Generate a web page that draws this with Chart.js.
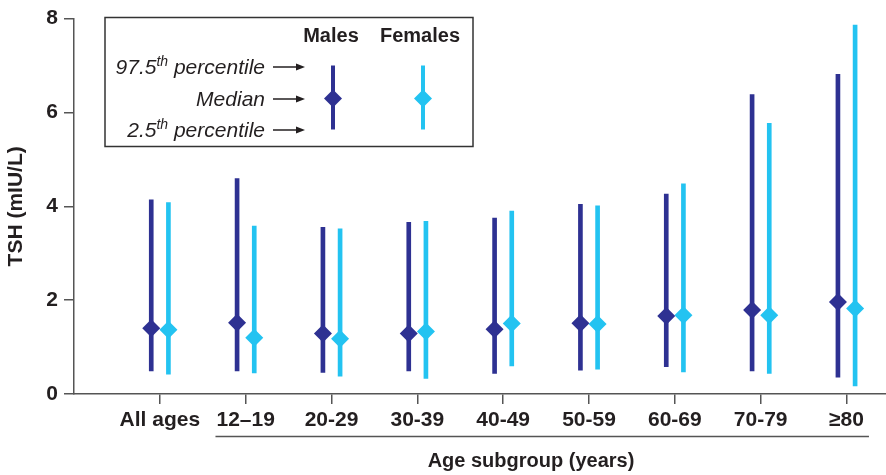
<!DOCTYPE html>
<html>
<head>
<meta charset="utf-8">
<script src="https://cdn.jsdelivr.net/npm/chart.js@4/dist/chart.umd.min.js"></script>
<style>
  html, body { margin: 0; padding: 0; background: #fff; }
  #wrap { width: 886px; height: 475px; position: relative; }
</style>
</head>
<body>
<div id="wrap"><canvas id="c" width="886" height="475"></canvas></div>
<script>
// ---- data ----
const categories = ['All ages', '12\u201319', '20-29', '30-39', '40-49', '50-59', '60-69', '70-79', '\u226580'];
const maleMedian   = [1.40, 1.52, 1.29, 1.29, 1.38, 1.51, 1.66, 1.79, 1.96];
const maleP975     = [4.14, 4.59, 3.55, 3.66, 3.75, 4.04, 4.26, 6.38, 6.81];
const maleP025     = [0.49, 0.49, 0.46, 0.49, 0.44, 0.51, 0.58, 0.49, 0.36];
const femaleMedian = [1.37, 1.20, 1.18, 1.33, 1.50, 1.49, 1.68, 1.68, 1.82];
const femaleP975   = [4.08, 3.58, 3.52, 3.68, 3.90, 4.01, 4.48, 5.77, 7.86];
const femaleP025   = [0.42, 0.45, 0.38, 0.33, 0.60, 0.53, 0.47, 0.44, 0.17];
const yTicks = [0, 2, 4, 6, 8];

// ---- style ----
const MALE = '#2E3192';
const FEMALE = '#23C3F1';
const TEXT = '#231F20';
const AXIS = '#555555';
const OFFSET = 0.1;
const FONT = '"Liberation Sans", Arial, Helvetica, sans-serif';

function bars(p025, p975, off) {
  return p025.map((lo, i) => ({ x: i + off, y: [lo, p975[i]] }));
}
function meds(m, off) {
  return m.map((v, i) => ({ x: i + off, y: v }));
}

const legendPlugin = {
  id: 'customDecor',
  afterDraw(chart) {
    const ctx = chart.ctx;
    const xs = chart.scales.x;
    ctx.save();
    // legend box
    ctx.strokeStyle = '#333';
    ctx.lineWidth = 1.5;
    ctx.strokeRect(105, 17.5, 368, 129);
    ctx.fillStyle = TEXT;
    ctx.textBaseline = 'alphabetic';
    ctx.textAlign = 'center';
    ctx.font = 'bold 20px ' + FONT;
    ctx.fillText('Males', 331, 42);
    ctx.fillText('Females', 420, 42);

    const rows = [
      { a: '97.5', sup: 'th', b: ' percentile', y: 67 },
      { a: 'Median', sup: '', b: '', y: 99 },
      { a: '2.5', sup: 'th', b: ' percentile', y: 130 }
    ];
    ctx.textAlign = 'left';
    rows.forEach(r => {
      const base = r.y + 7;
      ctx.font = 'italic 21px ' + FONT;
      const wa = ctx.measureText(r.a).width;
      const wb = ctx.measureText(r.b).width;
      ctx.font = 'italic 14px ' + FONT;
      const ws = r.sup ? ctx.measureText(r.sup).width : 0;
      const right = 265;
      let x = right - wa - ws - wb;
      ctx.font = 'italic 21px ' + FONT;
      ctx.fillText(r.a, x, base);
      x += wa;
      if (r.sup) {
        ctx.font = 'italic 14px ' + FONT;
        ctx.fillText(r.sup, x, base - 8);
        x += ws;
      }
      ctx.font = 'italic 21px ' + FONT;
      ctx.fillText(r.b, x, base);
      // arrow
      ctx.strokeStyle = TEXT;
      ctx.lineWidth = 1.5;
      ctx.beginPath();
      ctx.moveTo(273, r.y);
      ctx.lineTo(298, r.y);
      ctx.stroke();
      ctx.beginPath();
      ctx.moveTo(305, r.y);
      ctx.lineTo(296, r.y - 3.5);
      ctx.lineTo(296, r.y + 3.5);
      ctx.closePath();
      ctx.fill();
    });
    // legend sample keys
    [[333, MALE], [423, FEMALE]].forEach(([x, c]) => {
      ctx.strokeStyle = c;
      ctx.lineWidth = 4;
      ctx.beginPath();
      ctx.moveTo(x, 65.5);
      ctx.lineTo(x, 129.5);
      ctx.stroke();
      ctx.fillStyle = c;
      ctx.beginPath();
      const y = 98.5, r = 9;
      ctx.moveTo(x - r, y); ctx.lineTo(x, y - r); ctx.lineTo(x + r, y); ctx.lineTo(x, y + r);
      ctx.closePath();
      ctx.fill();
    });

    // bracket under subgroup labels + axis title
    ctx.font = 'bold 21px ' + FONT;
    const l = xs.getPixelForValue(1) - ctx.measureText(categories[1]).width / 2 - 1;
    const rr = xs.getPixelForValue(categories.length - 1) + ctx.measureText(categories[categories.length - 1]).width / 2 + 5;
    ctx.strokeStyle = AXIS;
    ctx.lineWidth = 1.5;
    ctx.beginPath();
    ctx.moveTo(l, 436.5);
    ctx.lineTo(rr, 436.5);
    ctx.stroke();
    ctx.fillStyle = TEXT;
    ctx.font = 'bold 20px ' + FONT;
    ctx.textAlign = 'center';
    ctx.textBaseline = 'middle';
    ctx.fillText('Age subgroup (years)', 531, 461);
    ctx.restore();
  }
};

const ctx = document.getElementById('c').getContext('2d');
new Chart(ctx, {
  data: {
    datasets: [
      { type: 'bar', label: 'Males range', data: bars(maleP025, maleP975, -OFFSET), backgroundColor: MALE, barThickness: 4, grouped: false, order: 3 },
      { type: 'bar', label: 'Females range', data: bars(femaleP025, femaleP975, OFFSET), backgroundColor: FEMALE, barThickness: 4, grouped: false, order: 3 },
      { type: 'scatter', label: 'Males', data: meds(maleMedian, -OFFSET), pointStyle: 'rectRot', pointRadius: 9, pointHoverRadius: 9, backgroundColor: MALE, borderWidth: 0, order: 1 },
      { type: 'scatter', label: 'Females', data: meds(femaleMedian, OFFSET), pointStyle: 'rectRot', pointRadius: 9, pointHoverRadius: 9, backgroundColor: FEMALE, borderWidth: 0, order: 1 }
    ]
  },
  options: {
    responsive: false,
    animation: false,
    events: [],
    layout: { autoPadding: false, padding: { top: 15, right: 0, left: 0, bottom: 0 } },
    plugins: { legend: { display: false }, tooltip: { enabled: false } },
    scales: {
      x: {
        type: 'linear',
        offset: false,
        min: -1,
        max: 8.46,
        afterBuildTicks(scale) { scale.ticks = categories.map((c, i) => ({ value: i })); },
        afterFit(scale) { scale.height = 81; scale.paddingLeft = 0; scale.paddingRight = 0; },
        ticks: {
          autoSkip: false,
          maxRotation: 0,
          padding: 4,
          color: TEXT,
          font: { family: FONT, size: 21, weight: 'bold' },
          callback: (v) => categories[v]
        },
        grid: { offset: false, drawOnChartArea: false, drawTicks: true, tickLength: 10, color: AXIS, lineWidth: 1.5 },
        border: { display: true, color: AXIS, width: 1.5 }
      },
      y: {
        min: 0,
        max: 8,
        afterBuildTicks(scale) { scale.ticks = yTicks.map(v => ({ value: v })); },
        afterFit(scale) { scale.width = 74; },
        ticks: {
          padding: 6,
          color: TEXT,
          font: { family: FONT, size: 21, weight: 'bold' }
        },
        title: {
          display: true,
          text: 'TSH (mIU/L)',
          color: TEXT,
          font: { family: FONT, size: 21, weight: 'bold' },
          padding: { top: 4, bottom: 0 }
        },
        grid: { drawOnChartArea: false, drawTicks: true, tickLength: 10, color: AXIS, lineWidth: 1.5 },
        border: { display: true, color: AXIS, width: 1.5 }
      }
    }
  },
  plugins: [legendPlugin]
});
</script>
</body>
</html>
